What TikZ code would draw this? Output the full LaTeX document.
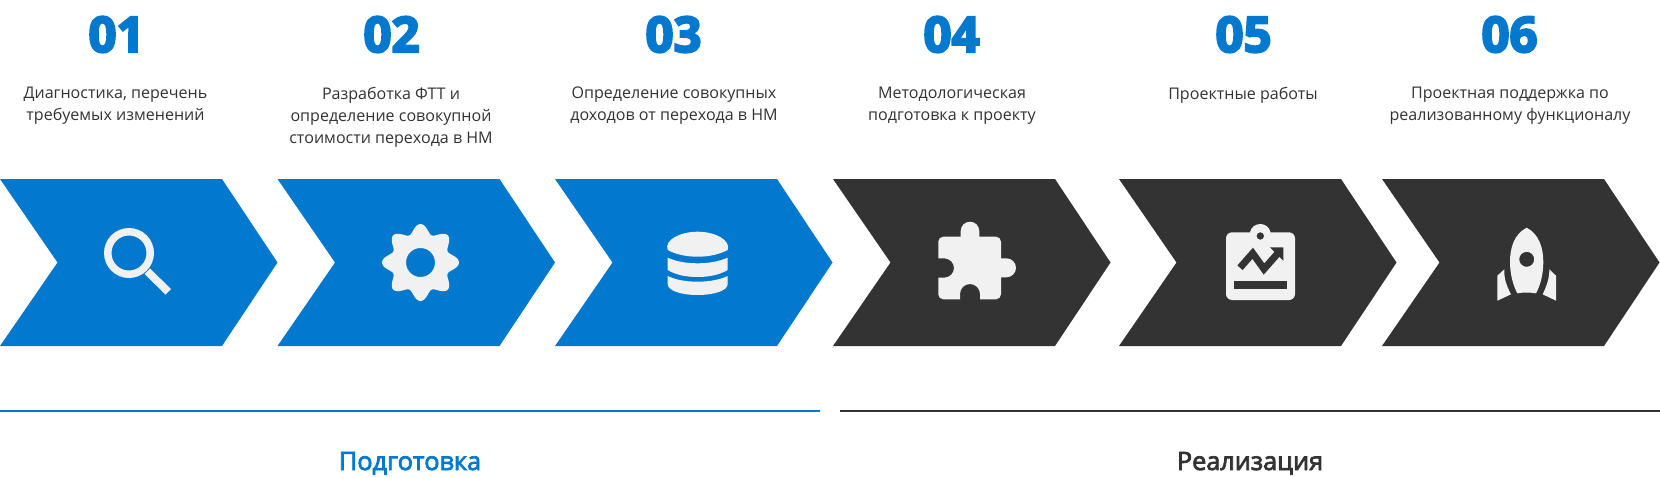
\documentclass[tikz,border=0pt]{standalone}
\usepackage{fontspec}
\setmainfont{Open Sans}
\newfontfamily\numfont[FakeBold=4.5]{Open Sans Bold}
\newfontfamily\headfont[FakeBold=3]{Open Sans}
\definecolor{bluemain}{HTML}{0279CF}
\definecolor{darkmain}{HTML}{333333}
\definecolor{iconfill}{HTML}{F1F1F1}
\tikzset{
  bluechev/.style={fill=bluemain},
  darkchev/.style={fill=darkmain},
  numlabel/.style={inner sep=0pt,anchor=base,text=bluemain,font=\numfont\fontsize{49}{49}\selectfont},
  caption/.style={inner sep=0pt,anchor=north,align=center,text=darkmain,font=\fontsize{16.05}{22}\selectfont},
  headlabel/.style={inner sep=0pt,anchor=base,font=\headfont\fontsize{25.3}{30}\selectfont},
  icon/.style={fill=iconfill},
  rulebar/.style={line width=2pt}
}
\newcommand{\chevron}[2]{%
  \fill[#2] (#1,179) -- ++(222,0) -- ++(55.5,83.5) -- ++(-55.5,83.5) -- ++(-222,0) -- ++(57.5,-83.5) -- cycle;}
\begin{document}
\begin{tikzpicture}[x=1pt,y=-1pt]
\useasboundingbox (0,0) rectangle (1660,477);
\chevron{0}{bluechev}
\chevron{277.5}{bluechev}
\chevron{555}{bluechev}
\chevron{833}{darkchev}
\chevron{1119}{darkchev}
\chevron{1382}{darkchev}
% numbers
\node[numlabel] (n1) at (116.5,52) {01};
\node[numlabel] (n2) at (391.5,52) {02};
\node[numlabel] (n3) at (673.5,52) {03};
\node[numlabel] (n4) at (951.5,52) {04};
\node[numlabel] (n5) at (1243.5,52) {05};
\node[numlabel] (n6) at (1509.5,52) {06};
% captions
\node[caption] (c1) at (115.5,87) {Диагностика, перечень\\требуемых изменений};
\node[caption] (c2) at (391,87) {Разработка ФТТ и\\определение совокупной\\стоимости перехода в НМ};
\node[caption] (c3) at (674,87) {Определение совокупных\\доходов от перехода в НМ};
\node[caption] (c4) at (952,87) {Методологическая\\подготовка к проекту};
\node[caption] (c5) at (1243,87) {Проектные работы};
\node[caption] (c6) at (1510,87) {Проектная поддержка по\\реализованному функционалу};
% magnifier
\fill[icon,even odd rule] (129,253) circle[radius=25] (129,253) circle[radius=17.5];
\fill[icon] (144.5,274) -- (150,268.5) -- (171,289) -- (165.5,294.5) -- cycle;
% gear
\fill[icon,even odd rule] plot[smooth,samples=145,domain=0:360] ({420.5+(33.9+4.6*cos(8*\x))*cos(\x)},{262.5+(33.9+4.6*cos(8*\x))*sin(\x)}) -- cycle (420.5,262.5) circle[radius=14.5];
% database
\fill[icon] (667.7,250) .. controls (664,240) and (680,231.7) .. (697.7,231.7) .. controls (715,231.7) and (731,240) .. (727.7,250) .. controls (720,254) and (710,256.7) .. (697.7,256.7) .. controls (685,256.7) and (675,254) .. (667.7,250) -- cycle;
\fill[icon] (667.7,257.7) .. controls (675,261) and (685,263.3) .. (697.7,263.3) .. controls (710,263.3) and (720,261) .. (727.7,257.7) -- (727.7,270) .. controls (720,274.5) and (710,277) .. (697.7,277) .. controls (685,277) and (675,274.5) .. (667.7,270) -- cycle;
\fill[icon] (667.7,276) .. controls (675,279.5) and (685,281.7) .. (697.7,281.7) .. controls (710,281.7) and (720,279.5) .. (727.7,276) -- (727.7,284) .. controls (727.7,291) and (713,295) .. (697.7,295) .. controls (682,295) and (667.7,291) .. (667.7,284) -- cycle;
% puzzle
\fill[icon] (943.3,236.7) -- (960.7,236.7) -- (960.7,231) .. controls (960.7,225.9) and (964.9,221.7) .. (970,221.7) .. controls (975.1,221.7) and (979.3,225.9) .. (979.3,231) -- (979.3,236.7) -- (996,236.7) .. controls (998.8,236.7) and (1001,238.9) .. (1001,241.7) -- (1001,258.3) -- (1006.5,258.3) .. controls (1011.7,258.3) and (1016,262.6) .. (1016,267.8) .. controls (1016,273) and (1011.7,277.3) .. (1006.5,277.3) -- (1001,277.3) -- (1001,294.3) .. controls (1001,297.1) and (998.8,299.3) .. (996,299.3) -- (980,299.3) -- (980,294) .. controls (980,288.5) and (975.5,284) .. (970,284) .. controls (964.5,284) and (960,288.5) .. (960,294) -- (960,299.3) -- (943.3,299.3) .. controls (940.5,299.3) and (938.3,297.1) .. (938.3,294.3) -- (938.3,277.7) -- (944,277.7) .. controls (949.5,277.7) and (954,273.4) .. (954,268) .. controls (954,262.6) and (949.5,258.3) .. (944,258.3) -- (938.3,258.3) -- (938.3,241.7) .. controls (938.3,238.9) and (940.5,236.7) .. (943.3,236.7) -- cycle;
% clipboard
\fill[icon,even odd rule] (1232,232.3) -- (1250,232.3) .. controls (1251,227.5) and (1255,224) .. (1260.3,224) .. controls (1265.5,224) and (1269.5,227.5) .. (1270.5,232.3) -- (1289,232.3) .. controls (1292.3,232.3) and (1295,235) .. (1295,238.3) -- (1295,294) .. controls (1295,297.3) and (1292.3,300) .. (1289,300) -- (1232,300) .. controls (1228.7,300) and (1226,297.3) .. (1226,294) -- (1226,238.3) .. controls (1226,235) and (1228.7,232.3) .. (1232,232.3) -- cycle (1260.3,236) circle[radius=3.8];
\draw[darkmain,line width=7pt] (1240,267.7) -- (1252.7,253.3) -- (1264,269) -- (1279,252);
\fill[darkmain] (1270,247.3) -- (1283.3,247.3) -- (1283.3,260.7) -- cycle;
\fill[darkmain] (1234,281.3) rectangle (1287,289);
% rocket
\fill[icon,even odd rule] (1526.7,227.7) .. controls (1514,234) and (1510,248) .. (1510,262) .. controls (1510,274) and (1513,285) .. (1517.3,293.3) .. controls (1523,292.3) and (1530,292.3) .. (1536,293.3) .. controls (1540.5,285) and (1543.3,274) .. (1543.3,262) .. controls (1543.3,248) and (1539,234) .. (1526.7,227.7) -- cycle (1526.7,259.3) circle[radius=7.5];
\fill[icon] (1504.3,269.3) -- (1497.3,275.7) -- (1497.3,300.7) -- (1511,294.3) .. controls (1506,285) and (1504,278) .. (1504.3,269.3) -- cycle;
\fill[icon] (1549.3,269.3) -- (1556,275.7) -- (1556,300.7) -- (1542.7,294.3) .. controls (1547,285) and (1549.5,278) .. (1549.3,269.3) -- cycle;
% rules
\coordinate (r1a) at (0,411); \coordinate (r1b) at (820,411);
\coordinate (r2a) at (840,411); \coordinate (r2b) at (1660,411);
\draw[rulebar,bluemain] (r1a) -- (r1b);
\draw[rulebar,darkmain] (r2a) -- (r2b);
\node[headlabel,text=bluemain] (h1) at (410,470) {Подготовка};
\node[headlabel,text=darkmain] (h2) at (1250,470) {Реализация};
\end{tikzpicture}
\end{document}
